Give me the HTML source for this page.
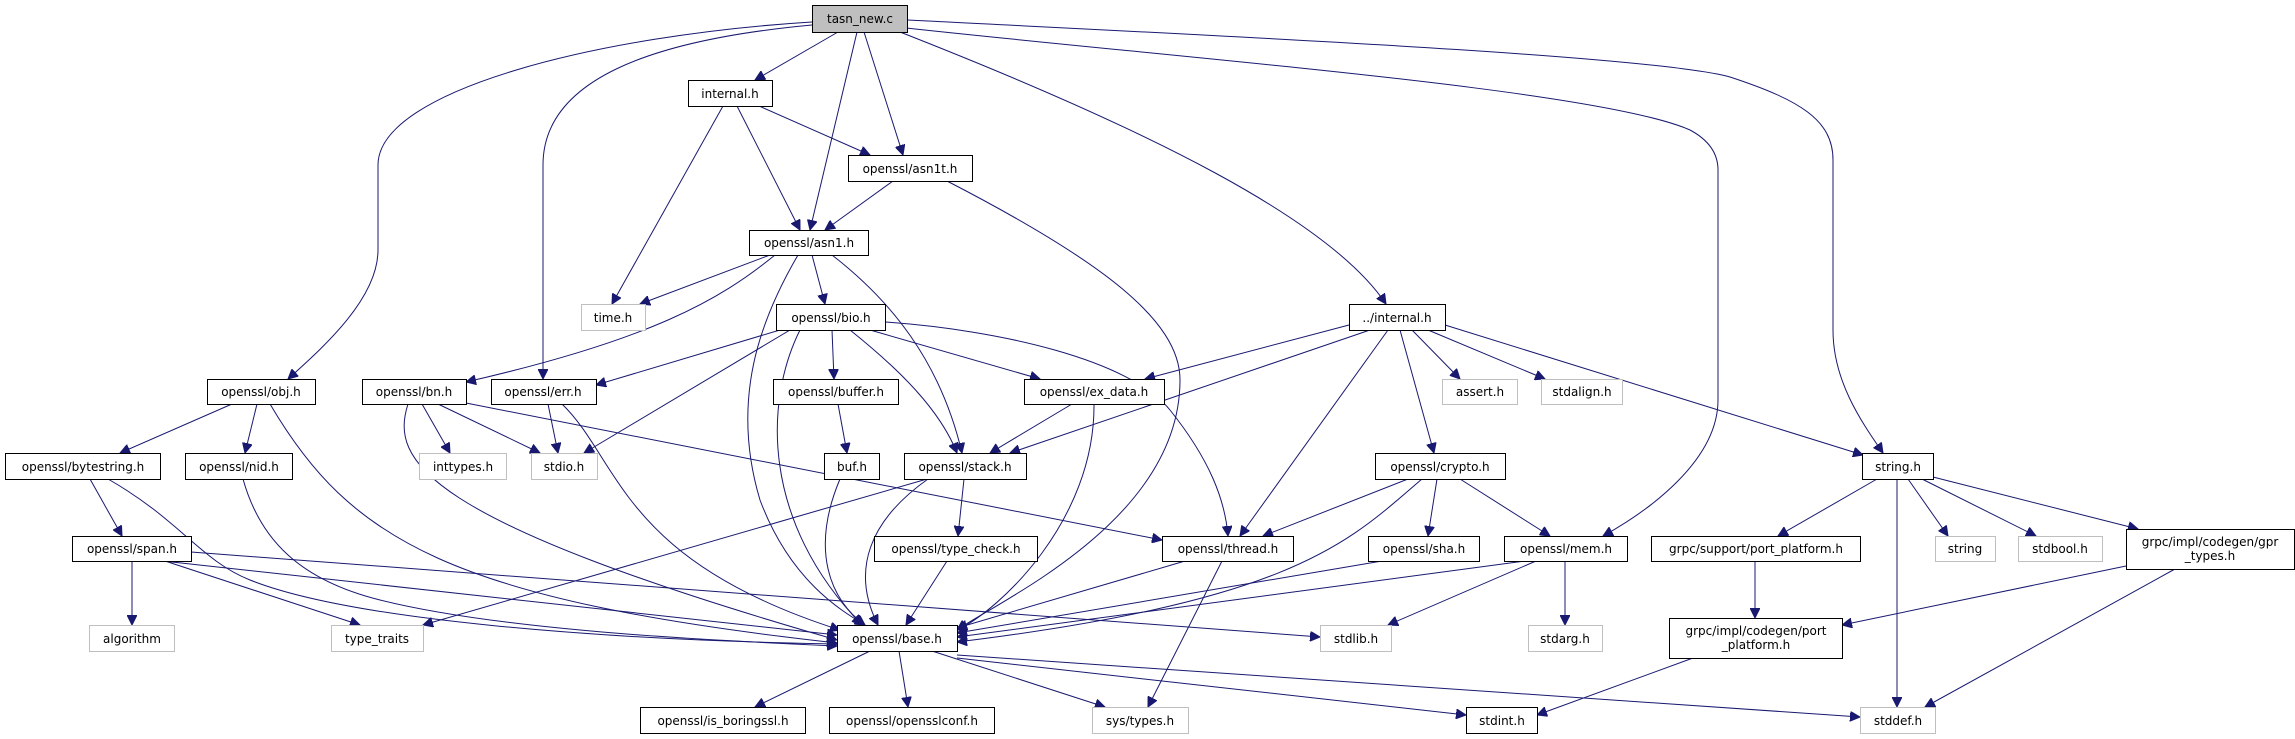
<!DOCTYPE html>
<html><head><meta charset="utf-8"><style>
html,body{margin:0;padding:0;background:#fff;}
svg{display:block;}
text{font-family:"DejaVu Sans","Liberation Sans",sans-serif;font-size:12px;fill:#000;text-anchor:middle;}
.b{fill:#fff;stroke:#000;stroke-width:1;}
.g{fill:#fff;stroke:#bfbfbf;stroke-width:1;}
path{fill:none;stroke:#191970;stroke-width:1;marker-end:url(#a);}
</style></head><body>
<svg width="2295" height="739" viewBox="0 0 2295 739" xmlns="http://www.w3.org/2000/svg">
<defs><marker id="a" markerUnits="userSpaceOnUse" markerWidth="11" markerHeight="10" refX="10" refY="5" orient="auto"><path d="M0,0 L10,5 L0,10 z" style="fill:#191970;stroke:#191970;marker-end:none"/></marker></defs>

<!-- edges -->
<path d="M812,22 C600,35 378,90 378,165 L378,250 C378,300 320,350 288,379"/>
<path d="M812,25 C650,40 543,80 543,165 L543,379"/>
<path d="M906,28 C1200,60 1600,90 1690,130 Q1718,145 1718,170 L1718,400 C1718,460 1650,510 1603,536"/>
<path d="M908,20 C1200,35 1650,55 1730,77 C1800,100 1833,120 1833,160 L1833,330 C1833,380 1860,420 1883,453"/>
<path d="M838,32 L755,80"/>
<path d="M857,32 L810,230"/>
<path d="M864,32 L903,155"/>
<path d="M900,32 C1150,130 1330,220 1386,304"/>
<path d="M723,106 L612,304"/>
<path d="M737,106 L800,230"/>
<path d="M759,106 L870,155"/>
<path d="M893,181 L825,230"/>
<path d="M947,181 C1100,260 1180,320 1180,380 C1180,520 1000,600 957,630"/>
<path d="M770,255 L640,304"/>
<path d="M812,255 L825,304"/>
<path d="M775,255 C720,300 650,340 466,382"/>
<path d="M798,255 C760,320 730,400 760,500 C790,580 840,610 865,625"/>
<path d="M832,255 C890,300 940,360 962,453"/>
<path d="M780,330 L596,385"/>
<path d="M790,330 L584,453"/>
<path d="M832,330 L834,379"/>
<path d="M800,330 C765,400 760,520 862,625"/>
<path d="M850,330 C900,370 940,410 957,453"/>
<path d="M870,330 L1040,379"/>
<path d="M885,322 C1000,330 1130,360 1170,410 C1210,460 1225,500 1228,536"/>
<path d="M1349,325 L1145,379"/>
<path d="M1370,330 L1010,453"/>
<path d="M1388,330 L1240,536"/>
<path d="M1400,330 L1434,453"/>
<path d="M1412,330 L1460,379"/>
<path d="M1428,330 L1545,379"/>
<path d="M1445,325 L1863,455"/>
<path d="M232,404 L120,453"/>
<path d="M257,404 L245,453"/>
<path d="M270,404 C350,540 450,600 837,643"/>
<path d="M422,404 L450,453"/>
<path d="M438,404 L540,453"/>
<path d="M466,403 L1162,540"/>
<path d="M408,404 C390,460 420,520 837,640"/>
<path d="M548,404 L558,453"/>
<path d="M562,404 C620,460 620,560 840,630"/>
<path d="M838,404 L847,453"/>
<path d="M840,479 C810,550 830,600 865,625"/>
<path d="M1072,404 L990,453"/>
<path d="M1094,404 C1095,520 1000,610 957,630"/>
<path d="M927,479 L423,625"/>
<path d="M964,479 L958,536"/>
<path d="M928,479 C870,520 850,570 878,625"/>
<path d="M947,561 L906,625"/>
<path d="M1408,479 L1263,536"/>
<path d="M1422,479 C1350,540 1300,600 957,642"/>
<path d="M1437,479 L1428,536"/>
<path d="M1460,479 L1550,536"/>
<path d="M1185,561 L957,628"/>
<path d="M1222,561 L1148,707"/>
<path d="M1382,561 L957,633"/>
<path d="M1525,561 L957,637"/>
<path d="M1536,561 L1388,625"/>
<path d="M1565,561 L1565,625"/>
<path d="M132,561 L132,625"/>
<path d="M165,561 L360,625"/>
<path d="M163,561 L837,635"/>
<path d="M191,552 L1320,637"/>
<path d="M90,479 L122,536"/>
<path d="M108,479 C180,520 200,560 250,580 C350,620 600,640 837,644"/>
<path d="M243,479 C260,540 300,580 380,600 C500,630 700,640 837,646"/>
<path d="M870,651 L755,707"/>
<path d="M899,651 L908,707"/>
<path d="M932,651 L1105,707"/>
<path d="M957,658 L1466,715"/>
<path d="M957,655 L1860,717"/>
<path d="M1877,479 L1778,536"/>
<path d="M1897,479 L1897,707"/>
<path d="M1908,479 L1948,536"/>
<path d="M1922,479 L2036,536"/>
<path d="M1933,477 L2138,529"/>
<path d="M1755,561 L1755,618"/>
<path d="M2126,566 L1842,625"/>
<path d="M2175,569 L1925,707"/>
<path d="M1693,658 L1537,715"/>

<!-- nodes -->
<rect x="812.5" y="5.5" width="95" height="27" style="fill:#bfbfbf;stroke:#000"/><text x="860" y="23">tasn_new.c</text>
<rect class="b" x="688.5" y="80.5" width="84" height="26"/><text x="730" y="98">internal.h</text>
<rect class="b" x="848.5" y="155.5" width="124" height="26"/><text x="910" y="173">openssl/asn1t.h</text>
<rect class="b" x="749.5" y="230.5" width="119" height="25"/><text x="809" y="247">openssl/asn1.h</text>
<rect class="g" x="581.5" y="304.5" width="64" height="26"/><text x="613" y="322">time.h</text>
<rect class="b" x="776.5" y="304.5" width="109" height="26"/><text x="831" y="322">openssl/bio.h</text>
<rect class="b" x="1349.5" y="304.5" width="96" height="26"/><text x="1397" y="322">../internal.h</text>
<rect class="b" x="207.5" y="379.5" width="108" height="25"/><text x="261" y="396">openssl/obj.h</text>
<rect class="b" x="362.5" y="379.5" width="104" height="25"/><text x="414" y="396">openssl/bn.h</text>
<rect class="b" x="491.5" y="379.5" width="105" height="25"/><text x="543" y="396">openssl/err.h</text>
<rect class="b" x="773.5" y="379.5" width="125" height="25"/><text x="836" y="396">openssl/buffer.h</text>
<rect class="b" x="1024.5" y="379.5" width="140" height="25"/><text x="1094" y="396">openssl/ex_data.h</text>
<rect class="g" x="1442.5" y="379.5" width="75" height="25"/><text x="1480" y="396">assert.h</text>
<rect class="g" x="1541.5" y="379.5" width="81" height="25"/><text x="1582" y="396">stdalign.h</text>
<rect class="b" x="5.5" y="453.5" width="155" height="26"/><text x="83" y="471">openssl/bytestring.h</text>
<rect class="b" x="185.5" y="453.5" width="107" height="26"/><text x="239" y="471">openssl/nid.h</text>
<rect class="g" x="419.5" y="453.5" width="87" height="26"/><text x="463" y="471">inttypes.h</text>
<rect class="g" x="531.5" y="453.5" width="66" height="26"/><text x="564" y="471">stdio.h</text>
<rect class="b" x="824.5" y="453.5" width="55" height="26"/><text x="852" y="471">buf.h</text>
<rect class="b" x="904.5" y="453.5" width="122" height="26"/><text x="965" y="471">openssl/stack.h</text>
<rect class="b" x="1375.5" y="453.5" width="130" height="26"/><text x="1440" y="471">openssl/crypto.h</text>
<rect class="b" x="1862.5" y="453.5" width="71" height="26"/><text x="1898" y="471">string.h</text>
<rect class="b" x="72.5" y="536.5" width="119" height="25"/><text x="132" y="553">openssl/span.h</text>
<rect class="b" x="874.5" y="536.5" width="163" height="25"/><text x="956" y="553">openssl/type_check.h</text>
<rect class="b" x="1162.5" y="536.5" width="131" height="25"/><text x="1228" y="553">openssl/thread.h</text>
<rect class="b" x="1368.5" y="536.5" width="111" height="25"/><text x="1424" y="553">openssl/sha.h</text>
<rect class="b" x="1504.5" y="536.5" width="123" height="25"/><text x="1566" y="553">openssl/mem.h</text>
<rect class="b" x="1651.5" y="536.5" width="209" height="25"/><text x="1756" y="553">grpc/support/port_platform.h</text>
<rect class="g" x="1935.5" y="536.5" width="60" height="25"/><text x="1965" y="553">string</text>
<rect class="g" x="2018.5" y="536.5" width="84" height="25"/><text x="2060" y="553">stdbool.h</text>
<rect class="b" x="2126.5" y="529.5" width="168" height="40"/><text x="2210" y="546">grpc/impl/codegen/gpr</text><text x="2210" y="560">_types.h</text>
<rect class="g" x="89.5" y="625.5" width="85" height="26"/><text x="132" y="643">algorithm</text>
<rect class="g" x="331.5" y="625.5" width="92" height="26"/><text x="377" y="643">type_traits</text>
<rect class="b" x="837.5" y="625.5" width="120" height="26"/><text x="897" y="643">openssl/base.h</text>
<rect class="g" x="1320.5" y="625.5" width="71" height="26"/><text x="1356" y="643">stdlib.h</text>
<rect class="g" x="1528.5" y="625.5" width="74" height="26"/><text x="1565" y="643">stdarg.h</text>
<rect class="b" x="1669.5" y="618.5" width="173" height="40"/><text x="1756" y="635">grpc/impl/codegen/port</text><text x="1756" y="649">_platform.h</text>
<rect class="b" x="640.5" y="707.5" width="165" height="26"/><text x="723" y="725">openssl/is_boringssl.h</text>
<rect class="b" x="829.5" y="707.5" width="165" height="26"/><text x="912" y="725">openssl/opensslconf.h</text>
<rect class="g" x="1092.5" y="707.5" width="96" height="26"/><text x="1140" y="725">sys/types.h</text>
<rect class="b" x="1466.5" y="707.5" width="71" height="26"/><text x="1502" y="725">stdint.h</text>
<rect class="g" x="1860.5" y="707.5" width="75" height="26"/><text x="1898" y="725">stddef.h</text>
</svg>
</body></html>
